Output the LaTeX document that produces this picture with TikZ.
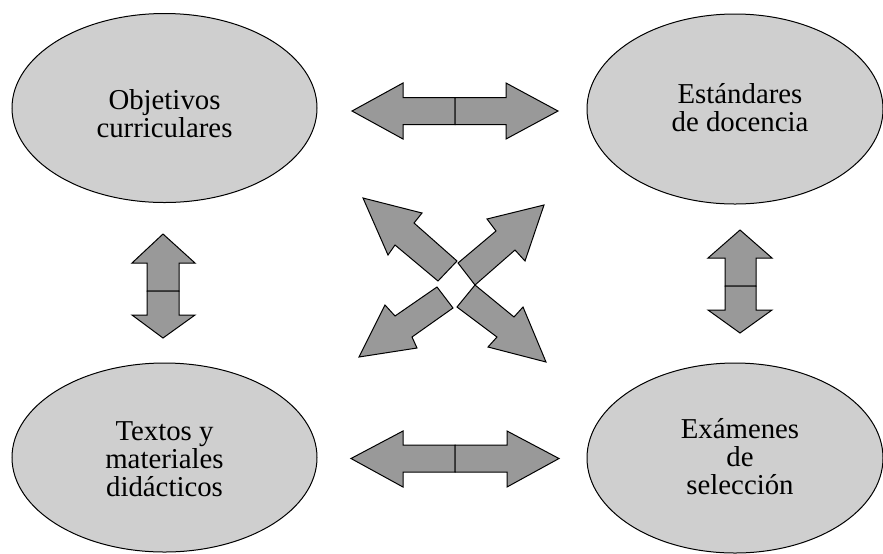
\documentclass[tikz,border=0pt]{standalone}
\usepackage{fontspec}
\setmainfont{Liberation Serif}
\usetikzlibrary{shapes.geometric}
\definecolor{ellfill}{HTML}{CFCFCF}
\definecolor{arrfill}{HTML}{999999}
\tikzset{
  ell/.style={ellipse, draw=black, line width=0.5pt, fill=ellfill, inner sep=0pt,
    minimum width=152.5pt, minimum height=94.5pt},
  lbl/.style={inner sep=0pt, align=center,
    font=\fontsize{14.4pt}{14pt}\selectfont},
  blockarrow/.style={draw=black, line width=0.5pt, fill=arrfill, line join=miter}
}
\begin{document}
\begin{tikzpicture}[x=0.5pt, y=-0.5pt]
\useasboundingbox (0,0) rectangle (883,553);
% ellipses
\node[ell] (obj) at (164.5,108) {};
\node[ell, minimum width=148pt, minimum height=95pt] (est) at (735,109) {};
\node[ell] (tex) at (164.5,457.5) {};
\node[ell, minimum width=148pt, minimum height=95pt] (exa) at (735,458) {};
\node[lbl] (objt) at (164.5,113.5) {Objetivos\\curriculares};
\node[lbl] (estt) at (740,108) {Estándares\\de docencia};
\node[lbl] (text) at (164.5,459) {Textos y\\materiales\\didácticos};
\node[lbl] (exat) at (740,457) {Exámenes\\de\\selección};
% top horizontal double arrow
\path[blockarrow] (352,111) -- (403,83) -- (403,97.5) -- (455,97.5) -- (455,124.5) -- (403,124.5) -- (403,139) -- cycle;
\path[blockarrow] (558,111) -- (506,83) -- (506,97.5) -- (455,97.5) -- (455,124.5) -- (506,124.5) -- (506,139) -- cycle;
% bottom horizontal double arrow
\path[blockarrow] (351,458.5) -- (403,431) -- (403,445) -- (455,445) -- (455,472) -- (403,472) -- (403,487) -- cycle;
\path[blockarrow] (559,458.5) -- (507,431) -- (507,445) -- (455,445) -- (455,472) -- (507,472) -- (507,487) -- cycle;
% left vertical double arrow
\path[blockarrow] (163,234) -- (132,263) -- (147,263) -- (147,291) -- (179,291) -- (179,263) -- (195,263) -- cycle;
\path[blockarrow] (163,338) -- (132,315) -- (147,315) -- (147,291) -- (179,291) -- (179,315) -- (195,315) -- cycle;
% right vertical double arrow
\path[blockarrow] (740,230) -- (708,258) -- (725,258) -- (725,286) -- (756,286) -- (756,258) -- (772,258) -- cycle;
\path[blockarrow] (740,333) -- (708,310) -- (725,310) -- (725,286) -- (756,286) -- (756,310) -- (772,310) -- cycle;
% diagonal arrows
\path[blockarrow] (363,198) -- (422,213) -- (414,223) -- (457,261) -- (438,281) -- (395,245) -- (388,255) -- cycle;
\path[blockarrow] (544,205) -- (487,219) -- (496,231) -- (458,263) -- (475,285) -- (515,250) -- (525,261) -- cycle;
\path[blockarrow] (359,357) -- (385,305) -- (395,316) -- (437,287) -- (453,308) -- (412,337) -- (417,348) -- cycle;
\path[blockarrow] (546,362) -- (523,307) -- (514,317) -- (475,285) -- (457,307) -- (497,337) -- (488,347) -- cycle;
\end{tikzpicture}
\end{document}
